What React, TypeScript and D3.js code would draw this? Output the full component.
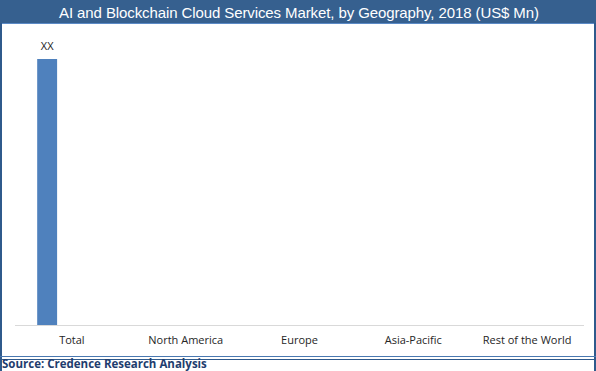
import React, { useEffect, useRef } from 'react';
import * as d3 from 'd3';

// chart data
const categories = ['Total', 'North America', 'Europe', 'Asia-Pacific', 'Rest of the World'];
const values: (number | null)[] = [100, null, null, null, null];
const valueLabels = ['XX', '', '', '', ''];
const title = 'AI and Blockchain Cloud Services Market, by Geography, 2018 (US$ Mn)';
const source = 'Source: Credence Research Analysis';

const App: React.FC = () => {
  const svgRef = useRef<SVGSVGElement | null>(null);

  useEffect(() => {
    const svg = d3.select(svgRef.current);
    svg.selectAll('*').remove();
    const width = 596;
    const height = 371;

    // Title bar
    svg.append('rect').attr('x', 0).attr('y', 0).attr('width', width).attr('height', 23).attr('fill', '#36608f');
    svg.append('line').attr('x1', 0).attr('x2', width).attr('y1', 23.5).attr('y2', 23.5)
      .attr('stroke', '#5b8ac6').attr('stroke-width', 1);
    svg.append('text')
      .attr('x', 299).attr('y', 18)
      .attr('text-anchor', 'middle')
      .attr('fill', '#ffffff')
      .style('font-family', '"Liberation Sans", Arial, sans-serif')
      .style('font-size', '15px')
      .style('letter-spacing', '-0.1px')
      .text(title);

    // Outer borders
    svg.append('line').attr('x1', 1).attr('x2', 1).attr('y1', 23).attr('y2', height)
      .attr('stroke', '#2f5a8c').attr('stroke-width', 2);
    svg.append('line').attr('x1', width - 1).attr('x2', width - 1).attr('y1', 23).attr('y2', height)
      .attr('stroke', '#2f5a8c').attr('stroke-width', 2);
    svg.append('line').attr('x1', 0).attr('x2', width).attr('y1', 356.5).attr('y2', 356.5)
      .attr('stroke', '#4a78b0').attr('stroke-width', 1);
    svg.append('line').attr('x1', 0).attr('x2', width).attr('y1', 359.5).attr('y2', 359.5)
      .attr('stroke', '#2f5a8c').attr('stroke-width', 1);

    // Scales
    const x = d3.scaleBand<string>().domain(categories).range([15, 584]).padding(0);
    const y = d3.scaleLinear().domain([0, 100]).range([325, 59]);

    // Baseline axis
    svg.append('line').attr('x1', 15).attr('x2', 584).attr('y1', 325.5).attr('y2', 325.5)
      .attr('stroke', '#d9d9d9').attr('stroke-width', 1);

    const bw = x.bandwidth();
    const barOffset = bw * 0.195;
    const barWidth = bw * 0.175;

    const data = categories.map((c, i) => ({ c, v: values[i], label: valueLabels[i] }));

    svg.selectAll('rect.bar')
      .data(data.filter(d => d.v !== null))
      .enter()
      .append('rect')
      .attr('class', 'bar')
      .attr('x', d => (x(d.c) as number) + barOffset)
      .attr('y', d => y(d.v as number))
      .attr('width', barWidth)
      .attr('height', d => y(0) - y(d.v as number))
      .attr('fill', '#4f81bd');

    svg.selectAll('text.vlabel')
      .data(data.filter(d => d.v !== null))
      .enter()
      .append('text')
      .attr('class', 'vlabel')
      .attr('x', d => (x(d.c) as number) + barOffset + barWidth / 2)
      .attr('y', d => y(d.v as number) - 9)
      .attr('text-anchor', 'middle')
      .attr('fill', '#222')
      .style('font-family', '"Open Sans", sans-serif')
      .style('font-size', '11px')
      .text(d => d.label);

    // Category labels
    svg.selectAll('text.cat')
      .data(categories)
      .enter()
      .append('text')
      .attr('class', 'cat')
      .attr('x', d => (x(d) as number) + bw / 2)
      .attr('y', 344)
      .attr('text-anchor', 'middle')
      .attr('fill', '#262626')
      .style('font-family', '"Open Sans", sans-serif')
      .style('font-size', '11px')
      .text(d => d);

    // Source
    svg.append('text')
      .attr('x', 2).attr('y', 368)
      .attr('fill', '#1f3d6e')
      .style('font-family', '"Open Sans", sans-serif')
      .style('font-size', '11.5px')
      .style('font-weight', 'bold')
      .text(source);
  }, []);

  return (
    <svg ref={svgRef} width={596} height={371}
      style={{ position: 'absolute', left: 0, top: 0, background: '#fff' }} />
  );
};

export default App;
